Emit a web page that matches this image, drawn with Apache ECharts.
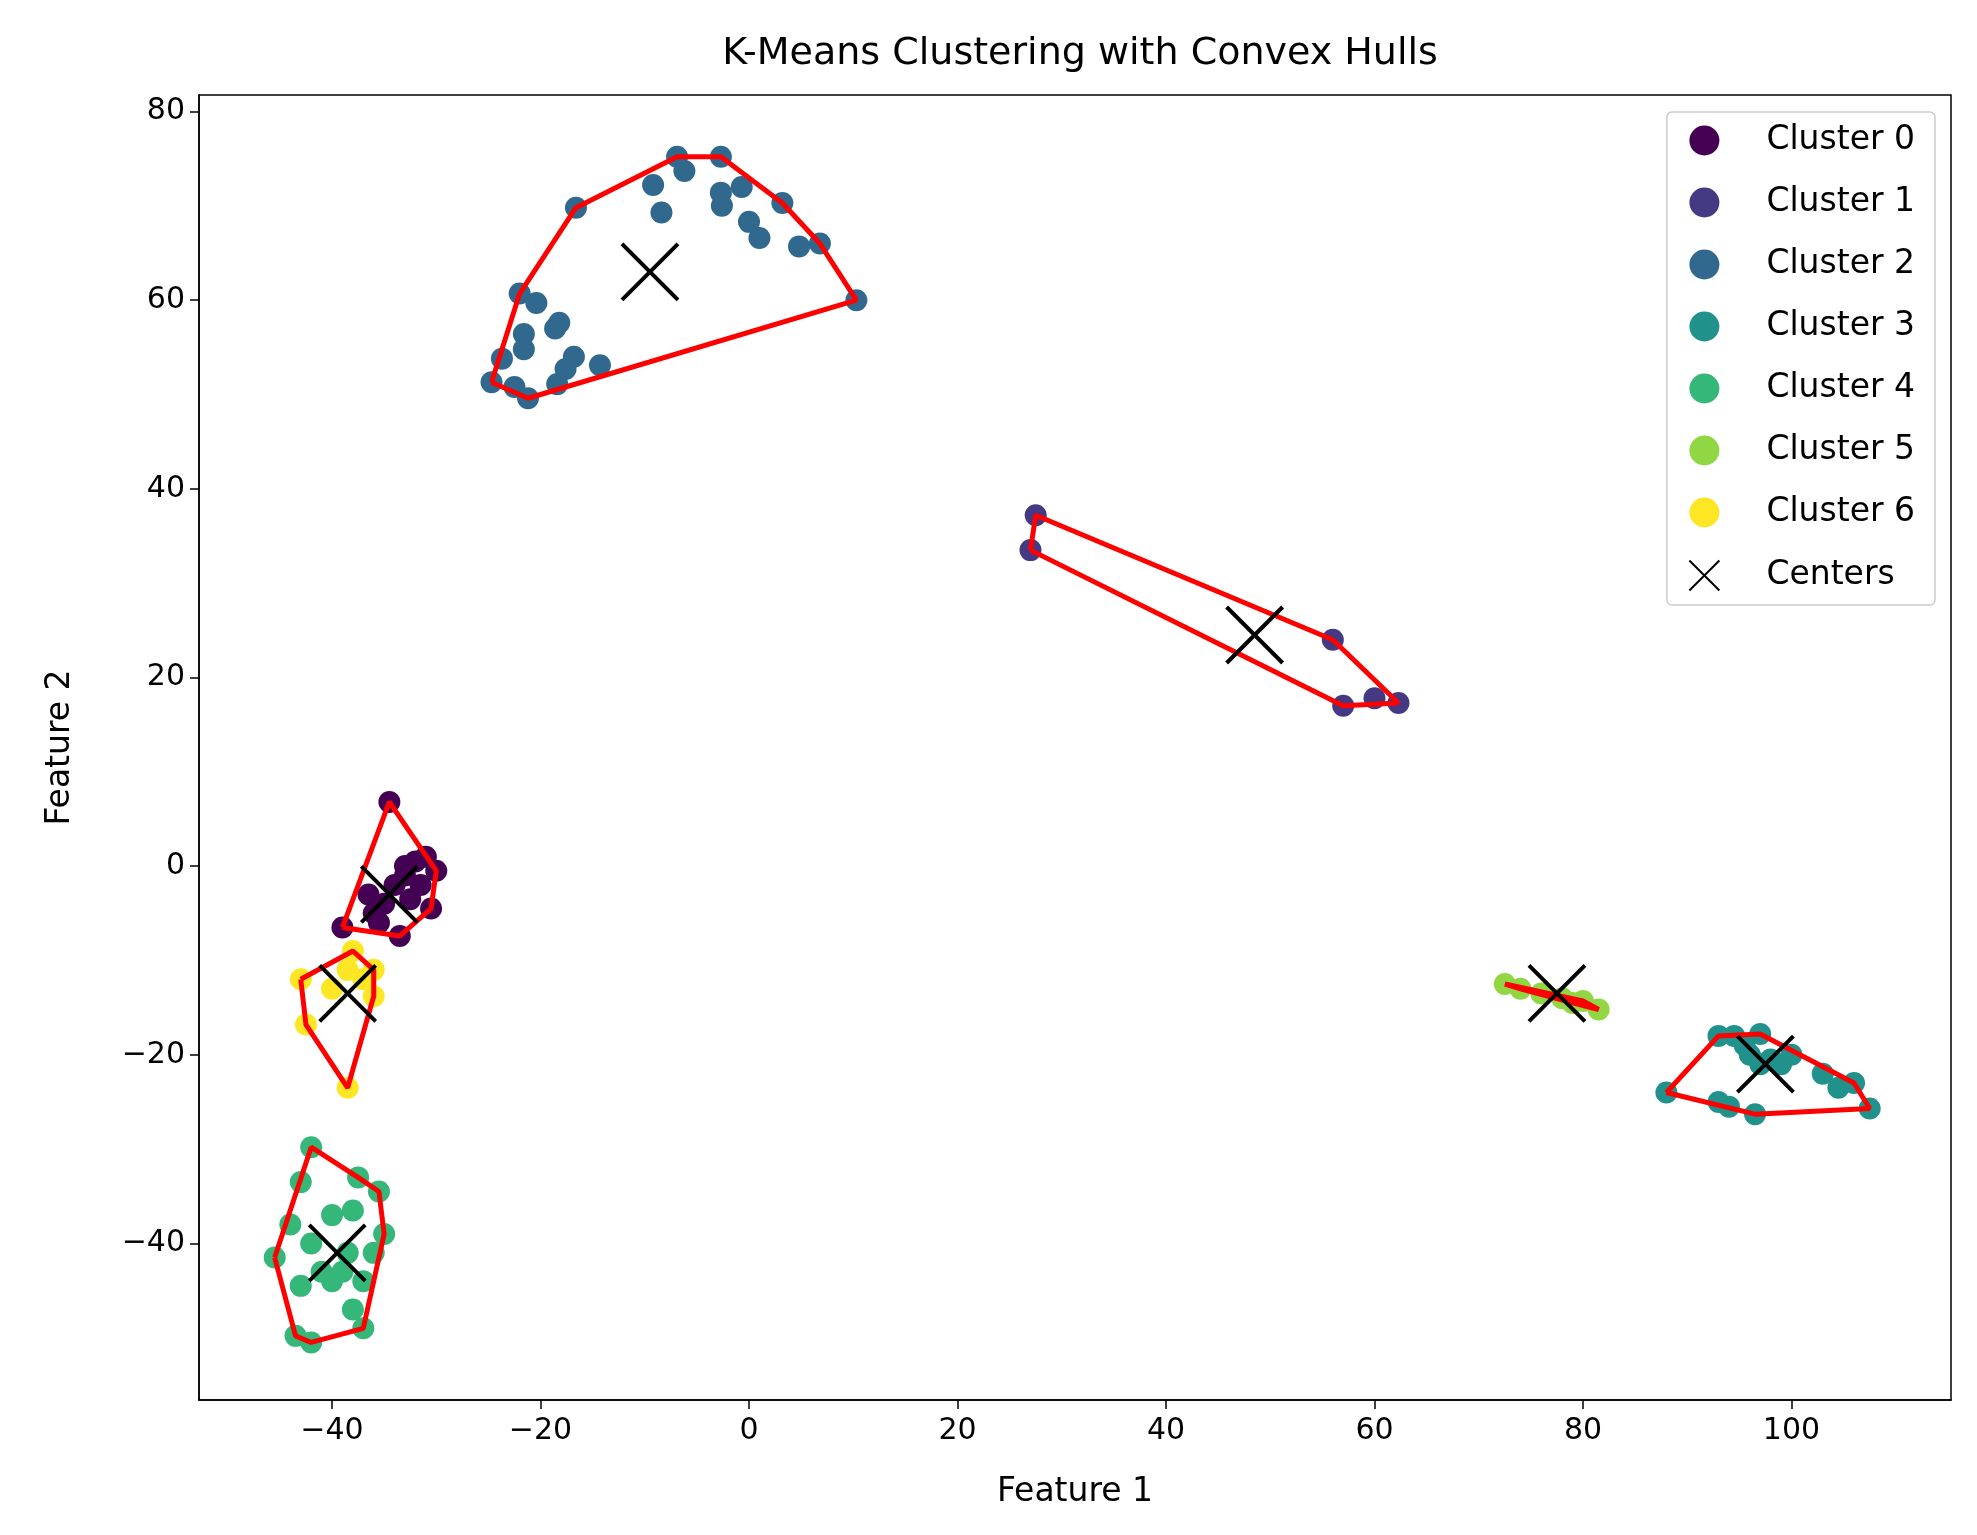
<!DOCTYPE html>
<html>
<head>
<meta charset="utf-8">
<script src="https://cdn.jsdelivr.net/npm/echarts@6/dist/echarts.min.js"></script>
<style>html,body{margin:0;background:#fff}#chart{width:1977px;height:1535px}</style>
</head>
<body>
<div id="chart"></div>
<script>
// cluster points
var cluster0 = [[-34.5,6.8],[-39,-6.5],[-33.5,-7.4],[-30,-0.5],[-30.5,-4.5],[-31,1],[-32,0.5],[-33,-1],[-35,-4],[-36,-5],[-34,-2],[-36.5,-3],[-32.5,-3.5],[-31.5,-2],[-35.5,-6],[-33,0]];
var cluster1 = [[27.5,37.2],[27,33.5],[56,24],[57,17],[60,17.8],[62.3,17.3]];
var cluster2 = [[-24.7,51.3],[-23.7,53.8],[-22,60.7],[-21.6,56.4],[-21.6,54.8],[-20.4,59.7],[-22.5,50.8],[-21.2,49.6],[-18.6,57],[-18.2,57.6],[-18.4,51.1],[-17.6,52.7],[-16.8,54],[-14.3,53.1],[-16.6,69.8],[-9.2,72.2],[-8.4,69.3],[-6.9,75.2],[-6.2,73.7],[-2.7,75.2],[-2.7,71.4],[-2.6,70],[-0.7,72],[0,68.3],[1,66.6],[3.2,70.3],[4.8,65.7],[6.8,66],[10.3,60]];
var cluster3 = [[88,-24],[93,-18],[94.5,-18],[95.5,-19],[97,-17.8],[96,-20],[97,-21],[98,-20.5],[99,-21],[100,-20],[103,-22],[104.5,-23.5],[106,-23],[107.5,-25.7],[93,-25],[94,-25.5],[96.5,-26.3]];
var cluster4 = [[-42,-29.8],[-43,-33.5],[-44,-38],[-45.5,-41.5],[-43,-44.5],[-43.5,-49.8],[-42,-50.5],[-37,-49],[-38,-47],[-37.5,-33],[-35.5,-34.5],[-35,-39],[-36,-41],[-40,-37],[-38,-36.5],[-42,-40],[-41,-43],[-39,-43],[-37,-44],[-40,-44],[-38.5,-41]];
var cluster5 = [[72.5,-12.5],[74,-13],[76,-13.5],[78,-14],[80,-14.3],[81.5,-15.2],[79,-14.5]];
var cluster6 = [[-43,-12],[-42.5,-16.8],[-38.5,-23.5],[-36,-11],[-36,-13.8],[-38,-9],[-38.5,-11],[-40,-13],[-37,-12]];
var centers = [[-34.5,-3],[48.5,24.5],[-9.5,63],[97.5,-21],[-39.5,-41],[77.5,-13.5],[-38.5,-13.5]];
var clusterNames = ['Cluster 0','Cluster 1','Cluster 2','Cluster 3','Cluster 4','Cluster 5','Cluster 6'];
var colors = ['#440154','#443983','#31688e','#21918c','#35b779','#90d743','#fde725'];

var clusters = [cluster0, cluster1, cluster2, cluster3, cluster4, cluster5, cluster6];

// monotone chain convex hull, closed
function hull(pts) {
  var p = pts.slice().sort(function(a,b){return a[0]-b[0]||a[1]-b[1];});
  function cross(o,a,b){return (a[0]-o[0])*(b[1]-o[1])-(a[1]-o[1])*(b[0]-o[0]);}
  var lo=[], up=[];
  p.forEach(function(q){while(lo.length>=2&&cross(lo[lo.length-2],lo[lo.length-1],q)<=0)lo.pop();lo.push(q);});
  p.slice().reverse().forEach(function(q){while(up.length>=2&&cross(up[up.length-2],up[up.length-1],q)<=0)up.pop();up.push(q);});
  var h = lo.slice(0,-1).concat(up.slice(0,-1));
  h.push(h[0]);
  return h;
}

var xMark = 'path://M0,0L10,10M10,0L0,10';
var font = 'DejaVu Sans';
var series = [];
clusters.forEach(function(c,i){
  series.push({name:clusterNames[i],type:'scatter',data:c,symbolSize:22,itemStyle:{color:colors[i],opacity:1},z:2});
});
clusters.forEach(function(c){
  series.push({type:'line',data:hull(c),symbol:'none',lineStyle:{color:'#ff0000',width:5},z:3,silent:true});
});
series.push({name:'Centers',type:'scatter',data:centers,symbol:xMark,symbolSize:56,
  itemStyle:{color:'none',borderColor:'#000',borderWidth:4,opacity:1},z:4});

function fmt(v){return String(v).replace('-','\u2212');}

var chart = echarts.init(document.getElementById('chart'));
chart.setOption({
  animation:false,
  textStyle:{fontFamily:font},
  title:{text:'K-Means Clustering with Convex Hulls',left:1075,top:30,textAlign:'center',
    textStyle:{fontFamily:font,fontSize:38,fontWeight:'normal',color:'#000'}},
  grid:{left:199,right:26,top:95,bottom:135,show:true,borderColor:'#000',borderWidth:1.5},
  legend:{data:clusterNames.concat(['Centers']),orient:'vertical',right:42,top:112,
    itemWidth:30,itemHeight:30,itemGap:29,padding:[12,20,12,20],
    backgroundColor:'#fff',borderColor:'#ccc',borderWidth:1.5,borderRadius:5,
    textStyle:{fontFamily:font,fontSize:33,color:'#000',padding:[0,0,0,42]}},
  xAxis:{type:'value',min:-52.76,max:115.3,splitNumber:8,name:'Feature 1',nameLocation:'middle',nameGap:76,
    nameTextStyle:{fontSize:33,color:'#000'},
    axisLine:{onZero:false,lineStyle:{color:'#000',width:1.5}},axisTick:{length:9,lineStyle:{color:'#000',width:1.5}},
    axisLabel:{fontSize:30,color:'#000',margin:16,showMinLabel:false,showMaxLabel:false,formatter:fmt},
    splitLine:{show:false}},
  yAxis:{type:'value',min:-56.6,max:81.75,splitNumber:7,name:'Feature 2',nameLocation:'middle',nameGap:122,
    nameTextStyle:{fontSize:33,color:'#000'},
    axisLine:{onZero:false,lineStyle:{color:'#000',width:1.5}},axisTick:{length:9,lineStyle:{color:'#000',width:1.5}},
    axisLabel:{fontSize:30,color:'#000',margin:14,showMinLabel:false,showMaxLabel:false,formatter:fmt},
    splitLine:{show:false}},
  series:series
});
</script>
</body>
</html>
